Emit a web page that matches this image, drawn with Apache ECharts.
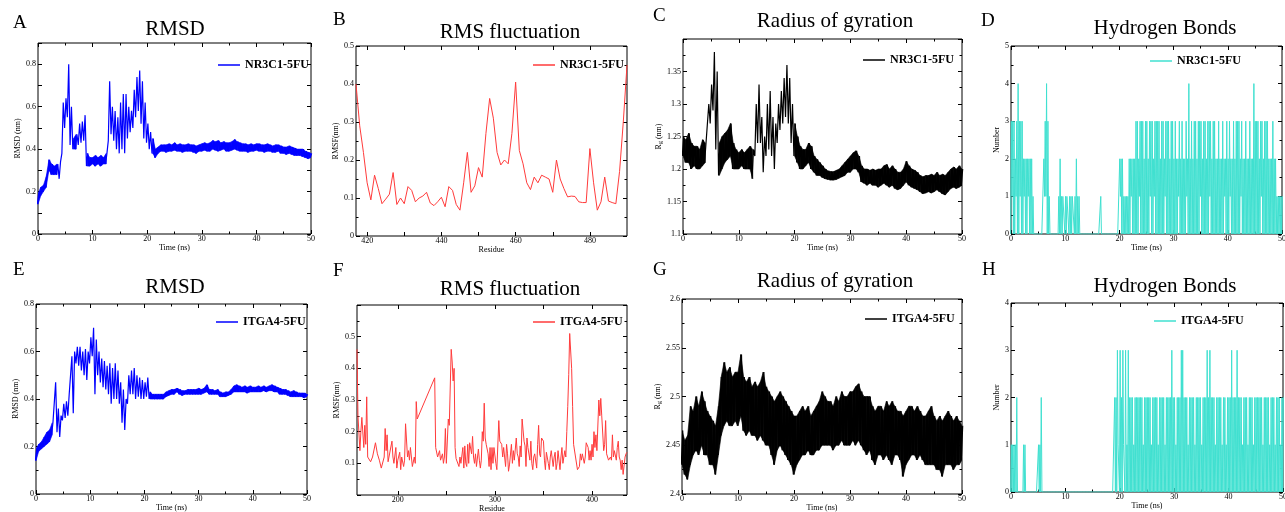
<!DOCTYPE html>
<html>
<head>
<meta charset="utf-8">
<script src="https://cdn.jsdelivr.net/npm/echarts@6/dist/echarts.min.js"></script>
<style>
html,body{margin:0;padding:0;background:#fff}
#main{width:1285px;height:512px}
</style>
</head>
<body>
<div id="main"></div>
<script>
var stepT = 0.5;
var stepHB = 0.25;

// A: RMSD NR3C1-5FU, t = 0 .. 50 ns
var rmsdNrLo = [0.14,0.18,0.20,0.22,0.30,0.28,0.28,0.28,0.26,0.38,
  0.50,0.55,0.42,0.40,0.40,0.42,0.43,0.44,0.32,0.32,
  0.33,0.32,0.33,0.32,0.33,0.33,0.44,0.47,0.44,0.40,
  0.38,0.40,0.38,0.45,0.48,0.50,0.55,0.58,0.52,0.45,
  0.43,0.40,0.38,0.36,0.38,0.39,0.39,0.385,0.39,0.39,
  0.395,0.39,0.39,0.385,0.39,0.39,0.39,0.385,0.38,0.39,
  0.39,0.395,0.39,0.39,0.40,0.395,0.39,0.395,0.40,0.39,
  0.39,0.395,0.40,0.395,0.39,0.39,0.39,0.385,0.39,0.39,
  0.395,0.39,0.39,0.385,0.39,0.39,0.385,0.385,0.39,0.38,
  0.38,0.375,0.38,0.375,0.37,0.37,0.37,0.365,0.36,0.355,0.36];
var rmsdNrHi = [0.19,0.22,0.23,0.27,0.35,0.33,0.32,0.33,0.34,0.62,
  0.64,0.80,0.60,0.45,0.47,0.52,0.53,0.56,0.38,0.36,
  0.36,0.37,0.36,0.37,0.36,0.38,0.72,0.60,0.58,0.55,
  0.62,0.66,0.66,0.60,0.58,0.68,0.74,0.77,0.72,0.62,
  0.52,0.48,0.45,0.40,0.41,0.42,0.42,0.42,0.425,0.42,
  0.43,0.42,0.425,0.42,0.42,0.425,0.42,0.42,0.415,0.42,
  0.425,0.43,0.425,0.43,0.44,0.435,0.44,0.43,0.435,0.43,
  0.43,0.435,0.445,0.435,0.43,0.425,0.425,0.42,0.425,0.42,
  0.425,0.425,0.42,0.42,0.425,0.42,0.415,0.42,0.42,0.415,
  0.41,0.41,0.415,0.41,0.405,0.40,0.40,0.40,0.39,0.385,0.38];

// B: RMSF NR3C1-5FU, residues 417 .. 490
var rmsfNrStart = 417;
var rmsfNr = [0.40,0.29,0.22,0.14,0.095,0.16,0.125,0.085,0.097,0.11,
  0.167,0.083,0.10,0.085,0.13,0.12,0.09,0.10,0.105,0.115,
  0.087,0.08,0.09,0.102,0.077,0.13,0.12,0.083,0.068,0.14,
  0.22,0.115,0.132,0.18,0.155,0.27,0.362,0.31,0.22,0.187,
  0.20,0.19,0.27,0.405,0.225,0.19,0.14,0.122,0.155,0.14,
  0.16,0.155,0.15,0.115,0.20,0.15,0.125,0.103,0.105,0.104,
  0.09,0.088,0.088,0.23,0.14,0.068,0.09,0.155,0.092,0.088,
  0.085,0.17,0.30,0.45];

// C: Rg NR3C1-5FU
var rgNrLo = [1.22,1.21,1.21,1.20,1.205,1.20,1.20,1.205,1.21,1.24,
  1.27,1.29,1.23,1.19,1.20,1.21,1.215,1.22,1.20,1.20,
  1.20,1.205,1.20,1.20,1.20,1.185,1.22,1.24,1.24,1.195,
  1.22,1.23,1.22,1.20,1.24,1.26,1.27,1.28,1.27,1.24,
  1.22,1.21,1.20,1.20,1.205,1.21,1.20,1.195,1.19,1.19,
  1.187,1.185,1.184,1.183,1.183,1.184,1.186,1.188,1.19,1.195,
  1.195,1.20,1.20,1.195,1.18,1.178,1.175,1.178,1.175,1.175,
  1.172,1.175,1.178,1.175,1.172,1.175,1.17,1.168,1.17,1.175,
  1.18,1.175,1.172,1.17,1.168,1.165,1.162,1.163,1.165,1.163,
  1.165,1.168,1.165,1.162,1.16,1.165,1.17,1.172,1.17,1.172,1.175];
var rgNrHi = [1.25,1.245,1.255,1.24,1.235,1.235,1.23,1.245,1.24,1.30,
  1.33,1.38,1.35,1.24,1.25,1.255,1.26,1.27,1.24,1.23,
  1.225,1.23,1.225,1.23,1.235,1.23,1.30,1.33,1.28,1.25,
  1.30,1.32,1.28,1.27,1.30,1.32,1.34,1.36,1.34,1.30,
  1.27,1.25,1.235,1.23,1.23,1.24,1.235,1.22,1.215,1.21,
  1.205,1.20,1.197,1.196,1.196,1.198,1.20,1.205,1.21,1.215,
  1.22,1.225,1.228,1.22,1.205,1.20,1.20,1.198,1.20,1.198,
  1.20,1.20,1.205,1.207,1.20,1.205,1.20,1.195,1.195,1.20,
  1.212,1.205,1.20,1.198,1.195,1.19,1.188,1.19,1.19,1.192,
  1.19,1.195,1.19,1.192,1.19,1.195,1.20,1.203,1.20,1.205,1.20];

// D: hydrogen bonds NR3C1-5FU, per 0.25 ns
var hbNrLo = [0,1,0,0,1,0,0,1,0,0, 1,0,0,1,0,0,0,0,0,0, 0,0,0,0,0,1,1,0,0,0, 0,0,0,0,0,0,0,0,0,1,
  0,0,1,0,0,0,1,0,0,0, 0,0,0,0,0,0,0,0,0,0, 0,0,0,0,0,0,0,0,0,0, 0,0,0,0,0,0,0,0,0,0,
  0,1,0,0,0,0,0,0,0,1, 0,0,0,0,0,1,0,0,0,0, 0,0,0,1,0,0,1,0,0,0, 0,0,0,0,1,0,0,0,0,0,
  0,0,0,0,1,0,0,0,0,0, 1,0,0,0,0,0,0,0,0,0, 1,0,0,0,0,0,0,1,0,0, 0,0,0,0,0,0,0,0,1,0,
  0,0,1,0,0,0,0,0,0,0, 1,0,0,0,0,0,0,0,0,0, 0,0,0,0,0,1,0,0,0,0, 0,0,0,0,0,0,0,0,0,0,0];
var hbNrHi = [3,3,3,2,3,4,3,3,3,2, 2,2,2,2,2,2,1,0,0,0, 0,0,0,0,2,3,4,3,1,0, 0,0,0,0,0,1,2,1,1,1,
  1,1,1,1,1,1,1,1,2,1, 1,0,0,0,0,0,0,0,0,0, 0,0,0,0,0,0,1,0,0,0, 0,0,0,0,0,0,0,0,0,0,
  2,2,2,1,1,1,1,2,2,2, 2,2,3,3,2,3,3,3,2,3, 3,2,3,3,3,2,3,3,3,3, 2,3,3,2,3,3,3,2,3,3,
  2,3,2,2,3,2,3,2,2,3, 2,4,2,3,2,3,3,2,3,3, 3,2,3,3,2,3,3,3,2,3, 3,2,2,3,2,2,3,2,2,3,
  2,3,2,2,3,2,3,3,3,2, 3,2,2,3,2,2,3,2,2,4, 3,3,3,2,3,3,2,3,3,3, 2,2,2,3,2,2,1,1,1,1,1];

// E: RMSD ITGA4-5FU
var rmsdItLo = [0.14,0.18,0.19,0.20,0.21,0.22,0.25,0.30,0.26,0.24,
  0.31,0.32,0.33,0.42,0.34,0.55,0.54,0.52,0.50,0.48,
  0.55,0.58,0.42,0.50,0.47,0.45,0.44,0.42,0.38,0.40,
  0.40,0.38,0.30,0.27,0.38,0.42,0.42,0.40,0.41,0.40,
  0.40,0.41,0.40,0.40,0.40,0.40,0.40,0.40,0.41,0.415,
  0.42,0.42,0.43,0.42,0.415,0.42,0.42,0.42,0.42,0.42,
  0.42,0.42,0.425,0.43,0.42,0.42,0.42,0.42,0.41,0.41,
  0.41,0.415,0.42,0.43,0.43,0.43,0.43,0.43,0.425,0.43,
  0.43,0.43,0.43,0.43,0.435,0.43,0.435,0.435,0.43,0.43,
  0.42,0.42,0.42,0.415,0.41,0.41,0.41,0.41,0.41,0.405,0.41];
var rmsdItHi = [0.19,0.21,0.22,0.24,0.26,0.27,0.30,0.47,0.36,0.33,
  0.38,0.39,0.42,0.58,0.60,0.62,0.62,0.60,0.61,0.60,
  0.66,0.70,0.65,0.60,0.57,0.56,0.54,0.55,0.53,0.55,
  0.52,0.47,0.44,0.40,0.50,0.52,0.53,0.50,0.49,0.48,
  0.47,0.49,0.43,0.42,0.42,0.42,0.42,0.42,0.43,0.435,
  0.44,0.44,0.445,0.44,0.435,0.435,0.44,0.44,0.44,0.44,
  0.445,0.44,0.445,0.46,0.44,0.44,0.435,0.44,0.43,0.425,
  0.43,0.43,0.44,0.455,0.46,0.455,0.45,0.455,0.45,0.455,
  0.45,0.45,0.455,0.45,0.455,0.45,0.455,0.46,0.455,0.45,
  0.445,0.44,0.44,0.435,0.43,0.435,0.43,0.425,0.425,0.425,0.42];

// F: RMSF ITGA4-5FU, [residue, nm] (gap of missing residues 221-237)
var rmsfIt = [[158,0.46],[159,0.25],[161,0.14],[162,0.20],[163,0.245],[165,0.15],[166,0.22],[167,0.16],[168,0.31],[169,0.12],
  [171,0.115],[172,0.105],[174,0.12],[176,0.115],[177,0.165],[179,0.13],[181,0.11],[183,0.085],[185,0.09],[186,0.12],
  [187,0.21],[188,0.14],[189,0.19],[190,0.105],[192,0.10],[194,0.17],[195,0.12],[196,0.10],[198,0.15],[199,0.085],
  [200,0.11],[202,0.135],[203,0.08],[204,0.12],[206,0.09],[207,0.11],[208,0.225],[210,0.12],[211,0.14],[212,0.11],
  [213,0.15],[215,0.09],[216,0.085],[217,0.12],[218,0.10],[219,0.295],[220,0.24],
  [238,0.37],[239,0.15],[241,0.12],[242,0.125],[243,0.14],[244,0.11],[246,0.13],[247,0.10],[248,0.12],[249,0.21],
  [250,0.10],[251,0.095],[252,0.24],[253,0.22],[255,0.46],[256,0.42],[257,0.36],[258,0.40],[259,0.15],[260,0.115],
  [261,0.11],[263,0.09],[264,0.12],[265,0.10],[267,0.15],[268,0.085],[269,0.155],[270,0.10],[271,0.09],[272,0.16],
  [273,0.10],[274,0.165],[276,0.13],[277,0.185],[278,0.12],[279,0.10],[280,0.13],[281,0.09],[283,0.145],[284,0.11],
  [285,0.085],[286,0.11],[287,0.20],[288,0.17],[289,0.29],[290,0.18],[291,0.16],[293,0.13],[294,0.09],[295,0.15],
  [296,0.08],[297,0.15],[298,0.10],[299,0.15],[301,0.10],[302,0.08],[304,0.235],[305,0.17],[306,0.175],[307,0.16],
  [308,0.12],[309,0.15],[311,0.09],[312,0.16],[313,0.13],[314,0.075],[315,0.095],[317,0.16],[318,0.10],[319,0.14],
  [320,0.11],[322,0.18],[323,0.13],[324,0.12],[325,0.09],[326,0.155],[327,0.12],[328,0.24],[330,0.17],[331,0.155],
  [332,0.09],[333,0.18],[334,0.15],[336,0.11],[337,0.17],[338,0.10],[339,0.08],[340,0.12],[341,0.13],[343,0.085],
  [344,0.16],[345,0.22],[346,0.13],[347,0.12],[348,0.18],[350,0.17],[351,0.11],[352,0.08],[353,0.135],[355,0.10],
  [356,0.08],[357,0.12],[358,0.14],[360,0.09],[361,0.12],[362,0.135],[363,0.08],[364,0.10],[365,0.14],[367,0.08],
  [368,0.12],[369,0.15],[370,0.10],[372,0.14],[373,0.12],[374,0.20],[375,0.28],[376,0.38],[377,0.51],[379,0.40],
  [380,0.28],[381,0.16],[382,0.165],[383,0.12],[385,0.08],[386,0.075],[387,0.09],[388,0.13],[389,0.11],[390,0.13],
  [392,0.10],[393,0.12],[394,0.165],[396,0.15],[397,0.11],[398,0.14],[399,0.11],[400,0.16],[401,0.12],[402,0.20],
  [403,0.15],[404,0.19],[405,0.14],[407,0.30],[408,0.25],[409,0.305],[410,0.25],[412,0.14],[413,0.16],[414,0.235],
  [415,0.13],[416,0.12],[417,0.11],[419,0.12],[420,0.11],[421,0.19],[422,0.12],[423,0.14],[425,0.11],[426,0.15],
  [427,0.17],[428,0.12],[429,0.11],[430,0.08],[431,0.11],[432,0.065],[434,0.12],[435,0.13],[436,0.135]];

// G: Rg ITGA4-5FU
var rgItLo = [2.43,2.42,2.415,2.43,2.44,2.445,2.44,2.45,2.44,2.44,
  2.43,2.43,2.42,2.44,2.46,2.47,2.475,2.47,2.47,2.475,
  2.47,2.48,2.465,2.46,2.465,2.46,2.46,2.455,2.46,2.455,
  2.45,2.45,2.44,2.43,2.445,2.45,2.445,2.44,2.435,2.43,
  2.42,2.43,2.435,2.44,2.44,2.445,2.44,2.44,2.445,2.445,
  2.45,2.45,2.45,2.45,2.445,2.45,2.45,2.455,2.45,2.45,
  2.45,2.455,2.45,2.455,2.45,2.445,2.44,2.445,2.435,2.43,
  2.44,2.44,2.435,2.44,2.435,2.43,2.44,2.44,2.435,2.418,
  2.43,2.435,2.44,2.44,2.435,2.44,2.435,2.43,2.43,2.43,
  2.43,2.425,2.425,2.418,2.43,2.43,2.43,2.425,2.43,2.43,2.435];
var rgItHi = [2.465,2.455,2.46,2.49,2.485,2.50,2.49,2.505,2.495,2.485,
  2.48,2.475,2.47,2.49,2.52,2.535,2.525,2.53,2.52,2.525,
  2.525,2.543,2.52,2.515,2.52,2.51,2.515,2.51,2.515,2.525,
  2.51,2.505,2.50,2.495,2.50,2.505,2.50,2.495,2.49,2.485,
  2.48,2.48,2.485,2.49,2.485,2.49,2.48,2.485,2.49,2.495,
  2.505,2.50,2.495,2.495,2.49,2.50,2.495,2.505,2.50,2.50,
  2.505,2.505,2.51,2.513,2.505,2.50,2.50,2.50,2.49,2.485,
  2.49,2.49,2.485,2.495,2.49,2.495,2.49,2.485,2.485,2.48,
  2.485,2.49,2.49,2.485,2.49,2.485,2.48,2.48,2.485,2.49,
  2.48,2.475,2.48,2.475,2.48,2.485,2.48,2.475,2.48,2.475,2.47];

// H: hydrogen bonds ITGA4-5FU, per 0.25 ns
var hbItLo = [0,0,0,0,0,0,0,0,0,0, 0,0,0,0,0,0,0,0,0,0, 0,0,0,0,0,0,0,0,0,0, 0,0,0,0,0,0,0,0,0,0,
  0,0,0,0,0,0,0,0,0,0, 0,0,0,0,0,0,0,0,0,0, 0,0,0,0,0,0,0,0,0,0, 0,0,0,0,0,0,0,0,0,1,
  0,0,0,1,0,0,0,0,0,0, 0,0,0,0,0,0,0,0,0,0, 0,0,0,0,0,0,0,0,0,0, 0,0,0,0,0,0,0,0,0,0,
  0,0,0,0,0,0,0,0,0,0, 0,0,0,0,0,0,0,0,0,0, 0,0,0,0,0,0,0,0,0,0, 0,0,0,0,0,0,0,0,0,0,
  0,0,0,0,0,0,0,0,0,0, 0,0,0,0,0,0,0,0,0,0, 0,0,0,0,0,0,0,0,0,0, 0,0,0,0,0,0,0,0,0,0,0];
var hbItHi = [1,1,1,1,2,0,0,0,0,1, 1,0,0,0,0,0,0,0,0,0, 1,1,2,0,0,0,0,0,0,0, 0,0,0,0,0,0,0,0,0,0,
  0,0,0,0,0,0,0,0,0,0, 0,0,0,0,0,0,0,0,0,0, 0,0,0,0,0,0,0,0,0,0, 0,0,0,0,0,0,2,2,3,1,
  3,2,3,1,3,1,3,2,2,2, 1,2,2,2,2,2,2,1,2,2, 2,2,2,1,2,2,2,2,1,2, 2,2,2,1,2,2,2,2,3,2,
  2,1,2,2,2,3,3,2,2,2, 1,2,2,2,2,1,2,2,2,2, 1,2,2,2,3,2,3,2,2,2, 1,2,2,2,2,1,2,2,1,2,
  2,2,3,2,2,2,3,2,2,2, 1,2,2,2,1,2,2,2,1,2, 2,2,2,2,2,1,2,2,2,2, 1,2,2,2,1,2,2,2,1,2,2];

var serif = '"Liberation Serif", "Times New Roman", serif';

// dense trajectory drawn as a jagged line running between the read lo/hi values
function zigzag(lo, hi, step) {
  var pts = [];
  for (var i = 0; i < lo.length; i++) {
    var t = i * step;
    pts.push([t - step / 4, lo[i]]);
    pts.push([t + step / 4, hi[i]]);
  }
  return pts;
}

// filled core where the trajectory is a narrow noise band (skipped on big excursions)
function bandSeries(lo, hi, step, k, color, maxSpread) {
  var pts = lo.map(function (v, i) { return [i * step, v, hi[i]]; });
  return {
    type: 'custom', xAxisIndex: 2 * k, yAxisIndex: 2 * k, silent: true, clip: true,
    data: pts, encode: {x: 0, y: [1, 2]}, z: 1,
    renderItem: function (params, api) {
      var i = params.dataIndex;
      if (i >= pts.length - 1) return null;
      var a = pts[i], b = pts[i + 1];
      if (Math.max(a[2] - a[1], b[2] - b[1]) > maxSpread) return null;
      return {
        type: 'polygon',
        shape: {points: [api.coord([a[0], a[1]]), api.coord([b[0], b[1]]),
                         api.coord([b[0], b[2]]), api.coord([a[0], a[2]])]},
        style: {fill: color, stroke: color, lineWidth: 0.6}
      };
    }
  };
}

var rmsfNrData = rmsfNr.map(function (v, i) { return [rmsfNrStart + i, v]; });

var timeAxis = {min: 0, max: 50, interval: 10, name: 'Time (ns)'};
var rgName = '{r|R}{s|g} (nm)';

var panels = [
  {key: 'A', box: [38, 43, 273, 191], title: 'RMSD', tc: [175, 29], lc: [13, 23], leg: [218, 66],
    name: 'NR3C1-5FU', color: '#0000ff', band: [rmsdNrLo, rmsdNrHi, 0.07], data: zigzag(rmsdNrLo, rmsdNrHi, stepT),
    x: timeAxis, xGap: 10,
    y: {min: 0, max: 0.9, interval: 0.1, noMinor: true, even: true, name: 'RMSD (nm)'}, yGap: 13},
  {key: 'B', box: [356, 46, 271, 190], title: 'RMS fluctuation', tc: [510, 32], lc: [333, 20], leg: [533, 66],
    name: 'NR3C1-5FU', color: '#ff3b3b', data: rmsfNrData,
    x: {min: 417, max: 490, ticks: [420, 430, 440, 450, 460, 470, 480], labels: [420, 440, 460, 480], name: 'Residue'}, xGap: 8,
    y: {min: 0, max: 0.5, interval: 0.1, name: 'RMSF(nm)'}, yGap: 14},
  {key: 'C', box: [683, 39, 279, 195], title: 'Radius of gyration', tc: [835, 21], lc: [653, 16], leg: [863, 61],
    name: 'NR3C1-5FU', color: '#000000', band: [rgNrLo, rgNrHi, 0.051], data: zigzag(rgNrLo, rgNrHi, stepT),
    x: timeAxis, xGap: 10,
    y: {min: 1.1, max: 1.4, interval: 0.05, hideMax: true, name: rgName}, yGap: 19},
  {key: 'D', box: [1011, 46, 271, 188], title: 'Hydrogen Bonds', tc: [1165, 28], lc: [981, 21], leg: [1150, 62],
    name: 'NR3C1-5FU', color: '#40e0d0', data: zigzag(hbNrLo, hbNrHi, stepHB),
    x: timeAxis, xGap: 10,
    y: {min: 0, max: 5, interval: 1, name: 'Number'}, yGap: 8},
  {key: 'E', box: [36, 304, 271, 190], title: 'RMSD', tc: [175, 287], lc: [13, 270], leg: [216, 323],
    name: 'ITGA4-5FU', color: '#0000ff', band: [rmsdItLo, rmsdItHi, 0.06], data: zigzag(rmsdItLo, rmsdItHi, stepT),
    x: timeAxis, xGap: 10,
    y: {min: 0, max: 0.8, interval: 0.2, name: 'RMSD (nm)'}, yGap: 14},
  {key: 'F', box: [357, 305, 270, 190], title: 'RMS fluctuation', tc: [510, 289], lc: [333, 271], leg: [533, 323],
    name: 'ITGA4-5FU', color: '#ff3b3b', data: rmsfIt,
    x: {min: 158, max: 436, ticks: [200, 250, 300, 350, 400], labels: [200, 300, 400], name: 'Residue'}, xGap: 9,
    y: {min: 0, max: 0.6, interval: 0.1, hideMin: true, hideMax: true, name: 'RMSF(nm)'}, yGap: 15},
  {key: 'G', box: [682, 299, 280, 195], title: 'Radius of gyration', tc: [835, 281], lc: [653, 270], leg: [865, 320],
    name: 'ITGA4-5FU', color: '#000000', band: [rgItLo, rgItHi, 0.08], data: zigzag(rgItLo, rgItHi, stepT),
    x: timeAxis, xGap: 8,
    y: {min: 2.4, max: 2.6, interval: 0.05, name: rgName}, yGap: 18},
  {key: 'H', box: [1011, 303, 272, 189], title: 'Hydrogen Bonds', tc: [1165, 286], lc: [982, 270], leg: [1154, 322],
    name: 'ITGA4-5FU', color: '#40e0d0', data: zigzag(hbItLo, hbItHi, stepHB),
    x: timeAxis, xGap: 9,
    y: {min: 0, max: 4, interval: 1, name: 'Number'}, yGap: 8}
];

function makeAxis(a, k, pos, mirror, gap) {
  var ax = {
    type: 'value', gridIndex: k, position: pos, min: a.min, max: a.max,
    axisLine: {show: false, onZero: false},
    splitLine: {show: false},
    axisTick: {show: true, inside: true, length: 4, lineStyle: {color: '#000', width: 1}},
    minorTick: {show: !a.ticks && !a.noMinor, splitNumber: 2, length: 2.5, lineStyle: {color: '#000', width: 1}},
    axisLabel: {show: !mirror, fontFamily: serif, fontSize: 8, color: '#000',
      margin: (pos === 'bottom' ? 1 : 2)}
  };
  if (a.interval) ax.interval = a.interval;
  if (a.ticks) {
    ax.axisTick.customValues = a.ticks;
    ax.axisLabel.customValues = a.labels;
  }
  if (a.hideMax) ax.axisLabel.showMaxLabel = false;
  if (a.hideMin) ax.axisLabel.showMinLabel = false;
  if (a.even) {
    ax.axisLabel.formatter = function (v) {
      var n = Math.round(v * 10);
      return (n % 2 === 0 && n < 9) ? String(n / 10) : '';
    };
  }
  if (!mirror) {
    ax.name = a.name;
    ax.nameLocation = 'middle';
    ax.nameGap = gap;
    ax.nameTextStyle = {fontFamily: serif, fontSize: 8, color: '#000',
      rich: {r: {fontFamily: serif, fontSize: 8, color: '#000'},
             s: {fontFamily: serif, fontSize: 6, color: '#000', padding: [3, 0, 0, 0]}}};
  }
  return ax;
}

var grids = [], xAxes = [], yAxes = [], series = [], legends = [], graphics = [];

panels.forEach(function (p, k) {
  grids.push({left: p.box[0], top: p.box[1], width: p.box[2], height: p.box[3],
    show: true, borderColor: '#000', borderWidth: 1, backgroundColor: 'transparent',
    containLabel: false, outerBoundsMode: 'none'});
  xAxes.push(makeAxis(p.x, k, 'bottom', false, p.xGap));
  xAxes.push(makeAxis(p.x, k, 'top', true));
  yAxes.push(makeAxis(p.y, k, 'left', false, p.yGap));
  yAxes.push(makeAxis(p.y, k, 'right', true));

  if (p.band) series.push(bandSeries(p.band[0], p.band[1], stepT, k, p.color, p.band[2]));

  var sName = p.name + '#' + p.key;
  series.push({
    type: 'line', name: sName, xAxisIndex: 2 * k, yAxisIndex: 2 * k, z: 2,
    data: p.data, showSymbol: false, symbol: 'none', silent: true,
    lineStyle: {color: p.color, width: (p.band ? 1.2 : 1), join: 'bevel'}, itemStyle: {color: p.color}
  });

  legends.push({
    data: [sName], left: p.leg[0], top: p.leg[1] - 7, padding: 0, itemGap: 0,
    icon: 'rect', itemWidth: 22, itemHeight: 1.5, selectedMode: false,
    formatter: function (n) { return n.split('#')[0]; },
    textStyle: {fontFamily: serif, fontSize: 12, fontWeight: 'bold', color: '#000'}
  });

  graphics.push({type: 'text', x: p.tc[0], y: p.tc[1], silent: true,
    style: {text: p.title, font: 'normal 21px ' + serif, fill: '#000',
      align: 'center', verticalAlign: 'middle', textAlign: 'center', textVerticalAlign: 'middle'}});
  graphics.push({type: 'text', x: p.lc[0], y: p.lc[1], silent: true,
    style: {text: p.key, font: 'normal 19px ' + serif, fill: '#000',
      align: 'left', verticalAlign: 'middle', textAlign: 'left', textVerticalAlign: 'middle'}});
});

var chart = echarts.init(document.getElementById('main'));
chart.setOption({
  animation: false,
  backgroundColor: '#fff',
  grid: grids,
  xAxis: xAxes,
  yAxis: yAxes,
  legend: legends,
  graphic: graphics,
  series: series
});
</script>
</body>
</html>
